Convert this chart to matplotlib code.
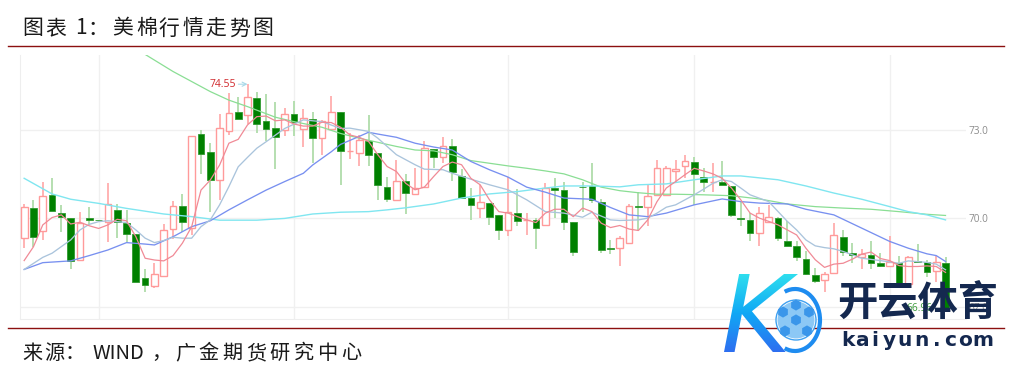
import numpy as np
import matplotlib
matplotlib.use('Agg')
import matplotlib.pyplot as plt
from matplotlib.patches import Circle, PathPatch, RegularPolygon, Arc
from matplotlib.textpath import TextPath
from matplotlib.font_manager import FontProperties
from matplotlib.transforms import Affine2D

opens = [69.33, 70.34, 69.57, 70.79, 70.20, 70.03, 68.59, 70.00, 69.95, 69.89,
         70.29, 69.83, 69.47, 67.97, 67.71, 68.06, 69.64, 70.43, 69.66, 72.85,
         72.25, 71.29, 72.96, 73.60, 73.50, 74.08, 73.29, 73.07, 73.00, 73.54,
         73.02, 73.37, 72.73, 73.02, 73.60, 72.27, 72.21, 72.63, 72.21, 71.06,
         70.63, 71.27, 70.82, 71.06, 72.35, 72.08, 72.46, 71.45, 70.70, 70.35,
         70.52, 70.11, 69.61, 70.19, 69.93, 69.95, 69.76, 71.03, 70.97, 69.87,
         71.08, 71.10, 70.56, 68.99, 68.99, 69.15, 70.42, 70.40, 70.80, 70.80,
         71.62, 71.77, 71.91, 71.40, 71.22, 71.24, 71.10, 70.00, 69.95, 69.49,
         69.87, 70.01, 69.25, 69.05, 68.63, 68.09, 67.91, 68.14, 69.36, 68.82,
         68.69, 68.77, 68.49, 68.40, 68.48, 67.76, 68.57, 68.51, 68.22, 68.48]
highs = [70.49, 70.63, 71.25, 71.36, 70.46, 70.03, 70.23, 70.38, 69.96, 71.19,
         70.49, 70.29, 69.47, 68.29, 68.48, 69.81, 70.59, 70.83, 72.81, 73.00,
         72.55, 73.53, 74.24, 74.11, 74.55, 74.30, 74.21, 73.96, 73.73, 73.99,
         73.70, 73.60, 73.34, 74.15, 73.60, 72.89, 72.83, 73.51, 72.21, 71.39,
         71.99, 71.49, 71.70, 72.61, 72.37, 72.75, 72.70, 71.67, 71.03, 71.14,
         70.52, 70.11, 71.40, 70.99, 70.20, 70.01, 71.19, 71.36, 71.25, 69.87,
         71.22, 71.87, 70.65, 69.27, 69.41, 70.49, 70.88, 71.14, 71.99, 71.76,
         71.99, 72.16, 72.08, 71.70, 71.87, 71.93, 71.10, 70.57, 70.18, 70.38,
         70.46, 70.06, 69.92, 69.22, 68.88, 68.31, 68.20, 69.84, 69.61, 69.16,
         68.96, 69.22, 68.82, 69.42, 68.71, 68.73, 69.14, 68.60, 68.73, 68.69]
lows = [68.99, 69.04, 69.27, 70.26, 69.55, 68.27, 68.59, 69.78, 69.93, 69.19,
        69.35, 69.19, 67.83, 67.49, 67.63, 68.06, 69.30, 69.55, 69.44, 71.51,
        70.23, 70.63, 72.83, 73.36, 73.20, 72.88, 72.64, 71.69, 72.79, 72.79,
        72.43, 71.87, 72.15, 73.00, 71.13, 72.01, 71.76, 71.79, 70.61, 70.57,
        70.63, 70.16, 70.82, 71.03, 71.70, 71.87, 71.27, 70.69, 69.95, 70.01,
        69.78, 69.27, 69.41, 69.73, 69.44, 68.97, 69.76, 70.01, 69.61, 68.73,
        70.23, 70.52, 68.84, 68.80, 68.40, 69.15, 69.56, 69.73, 70.80, 70.80,
        71.19, 71.36, 70.46, 70.88, 70.91, 71.13, 70.06, 69.75, 69.25, 69.05,
        69.87, 69.22, 69.05, 68.57, 68.09, 67.80, 67.49, 68.14, 68.71, 68.48,
        68.29, 68.29, 68.34, 68.40, 67.76, 67.76, 68.48, 68.03, 67.86, 66.96]
closes = [70.40, 69.36, 70.77, 70.26, 70.04, 68.56, 69.86, 69.95, 69.94, 70.49,
          69.87, 69.47, 67.83, 67.74, 68.11, 69.61, 70.43, 69.87, 72.81, 72.18,
          71.29, 73.08, 73.56, 73.36, 74.11, 73.20, 73.04, 72.77, 73.54, 73.27,
          73.42, 72.73, 73.30, 73.60, 72.29, 72.29, 72.66, 72.14, 71.14, 70.65,
          71.26, 70.87, 71.04, 72.40, 72.09, 72.44, 71.59, 70.69, 70.44, 70.55,
          70.06, 69.61, 70.22, 69.92, 69.95, 69.68, 71.03, 70.98, 69.87, 68.86,
          71.06, 70.63, 68.93, 68.97, 69.33, 70.42, 70.39, 70.77, 71.70, 71.70,
          71.66, 71.94, 71.51, 71.22, 71.24, 71.13, 70.11, 69.97, 69.49, 70.18,
          70.04, 69.32, 69.05, 68.68, 68.11, 67.87, 68.11, 69.43, 68.86, 68.75,
          68.79, 68.49, 68.39, 68.52, 67.76, 68.70, 68.53, 68.19, 68.53, 66.96]

ma_red = [68.57, 69.04, 69.78, 70.03, 70.12, 69.81, 69.87, 69.75, 69.66, 69.78,
          69.97, 69.92, 69.38, 68.65, 68.59, 68.56, 68.74, 69.16, 69.72, 70.96,
          71.30, 71.81, 72.55, 72.68, 73.17, 73.45, 73.47, 73.31, 73.34, 73.20,
          73.13, 73.13, 73.26, 73.25, 73.09, 72.83, 72.75, 72.61, 72.16, 71.76,
          71.59, 71.19, 70.97, 71.06, 71.42, 71.76, 71.91, 71.82, 71.36, 71.14,
          70.63, 70.23, 70.18, 70.06, 69.95, 69.86, 70.18, 70.31, 70.31, 70.06,
          70.35, 70.23, 69.84, 69.69, 69.76, 69.64, 69.59, 69.95, 70.57, 71.03,
          71.25, 71.48, 71.70, 71.61, 71.51, 71.36, 71.03, 70.63, 70.18, 70.01,
          69.90, 69.78, 69.61, 69.44, 68.99, 68.60, 68.34, 68.45, 68.48, 68.62,
          68.79, 68.86, 68.64, 68.57, 68.40, 68.37, 68.37, 68.39, 68.37, 68.17]

ma_grey_x = [0, 2, 3, 5, 6, 7, 8, 9, 11, 12, 13, 14, 15, 16, 17, 18, 19, 20, 21, 22, 23,
             24, 25, 26, 28, 30, 32, 34, 35, 37, 38, 40, 42, 43, 45, 46, 48, 50, 52, 54,
             56, 58, 60, 61, 63, 64, 66, 67, 68, 69, 70, 72, 73, 74, 75, 76, 77, 78, 80,
             82, 83, 84, 85, 86, 87, 88, 90, 92, 94, 95, 97, 98, 99]
ma_grey = [68.27, 68.68, 68.82, 69.27, 69.61, 69.80, 69.89, 69.92, 69.86, 69.61, 69.33,
           69.18, 69.25, 69.36, 69.33, 69.33, 69.72, 69.95, 70.46, 71.08, 71.75, 72.07,
           72.38, 72.60, 73.05, 73.34, 73.28, 73.05, 73.06, 72.95, 72.72, 72.16, 71.82,
           71.67, 71.65, 71.53, 71.33, 71.14, 70.97, 70.63, 70.23, 70.18, 70.04, 70.21,
           69.95, 69.93, 69.95, 70.01, 70.18, 70.38, 70.46, 70.80, 70.99, 71.19, 71.31,
           71.25, 71.03, 70.80, 70.57, 69.90, 69.61, 69.27, 69.07, 69.01, 68.97, 68.88,
           68.65, 68.57, 68.48, 68.56, 68.51, 68.45, 68.26]

ma_blue_x = [0, 2, 5, 7, 9, 11, 13, 14, 16, 18, 20, 22, 24, 26, 28, 30, 31, 33, 34, 36,
             37, 38, 40, 42, 44, 46, 48, 50, 52, 54, 56, 58, 61, 63, 65, 67, 69, 72, 75,
             77, 79, 82, 84, 87, 90, 93, 95, 97, 98, 99]
ma_blue = [68.27, 68.50, 68.56, 68.74, 68.93, 69.18, 69.13, 69.10, 69.38, 69.72, 69.92,
           70.29, 70.63, 70.96, 71.25, 71.53, 71.81, 72.26, 72.51, 72.78, 72.92, 72.86,
           72.75, 72.55, 72.42, 72.32, 71.93, 71.65, 71.40, 71.06, 70.89, 70.69, 70.65,
           70.37, 70.12, 70.06, 70.18, 70.46, 70.66, 70.57, 70.52, 70.49, 70.31, 70.12,
           69.67, 69.22, 68.99, 68.80, 68.74, 68.54]

ma_cyan_x = [0, 3, 5, 8, 11, 15, 18, 21, 25, 28, 31, 34, 37, 39, 41, 44, 47, 50, 53, 56,
             58, 61, 64, 66, 69, 72, 75, 77, 81, 84, 87, 90, 93, 95, 97, 99]
ma_cyan = [71.36, 70.83, 70.65, 70.51, 70.34, 70.15, 70.06, 69.94, 69.94, 70.00, 70.15,
           70.21, 70.23, 70.29, 70.36, 70.49, 70.69, 70.83, 70.91, 71.03, 71.10, 71.10,
           71.07, 71.14, 71.17, 71.31, 71.44, 71.44, 71.31, 71.10, 70.86, 70.65, 70.40,
           70.23, 70.12, 69.95]

ma_green_x = [13, 16, 20, 22, 24, 27, 29, 32, 34, 36, 38, 40, 42, 44, 46, 48, 50, 52, 54,
              56, 58, 60, 62, 64, 66, 68, 70, 73, 76, 79, 82, 85, 88, 91, 94, 97, 99]
ma_green = [75.56, 74.98, 74.30, 74.01, 73.79, 73.43, 73.28, 73.09, 72.88, 72.72, 72.58,
            72.44, 72.32, 72.29, 72.16, 71.96, 71.87, 71.78, 71.70, 71.61, 71.51, 71.31,
            71.06, 70.94, 70.87, 70.82, 70.82, 70.80, 70.77, 70.66, 70.49, 70.40, 70.35,
            70.31, 70.23, 70.14, 70.10]

y_ticks = [67.0, 70.0, 73.0]
x_grid = [8, 29, 52, 72, 93]

W, H = 1009, 373
plt.rcParams['font.family'] = ['Noto Sans CJK SC', 'DejaVu Sans']
fig = plt.figure(figsize=(W / 100, H / 100), dpi=100)

# chart area, in pixels of the reference
left, right, top, bottom = 19.5, 966, 55, 319
ax = fig.add_axes([left / W, 1 - bottom / H, (right - left) / W, (bottom - top) / H])
ax.set_xlim(-0.5, 101.2)
ax.set_ylim(66.59, 75.54)
for s in ['top', 'right']:
    ax.spines[s].set_visible(False)
for s in ['left', 'bottom']:
    ax.spines[s].set_color('#eeeeee')
ax.set_xticks(x_grid)
ax.set_xticklabels([])
ax.tick_params(axis='x', length=0)
ax.set_yticks(y_ticks)
ax.set_yticklabels(['%.1f' % v for v in y_ticks], family='Open Sans', fontsize=7.2, color='#8c8c8c')
ax.yaxis.tick_right()
ax.tick_params(axis='y', length=0, pad=2)
ax.grid(True, color='#f0f0f0', lw=1)
ax.set_axisbelow(True)

o = np.array(opens)
h = np.array(highs)
l = np.array(lows)
c = np.array(closes)
x = np.arange(len(o))
up = c >= o

ax.vlines(x[up], l[up], h[up], color='#ffb3b3', lw=1.4, zorder=2)
ax.vlines(x[~up], l[~up], h[~up], color='#b5dfb0', lw=1.4, zorder=2)
ax.bar(x[up], (c - o)[up], bottom=o[up], width=0.72, facecolor='white', edgecolor='#ff9a9a', lw=1, zorder=3)
ax.bar(x[~up], (c - o)[~up], bottom=o[~up], width=0.72, facecolor='#008000', edgecolor='#2f9a2f', lw=0.6, zorder=3)

ax.plot(ma_green_x, ma_green, color='#8ade94', lw=0.9, zorder=4)
ax.plot(ma_cyan_x, ma_cyan, color='#80e6f0', lw=1, zorder=4)
ax.plot(ma_blue_x, ma_blue, color='#7890f0', lw=0.95, zorder=4)
ax.plot(ma_grey_x, ma_grey, color='#aac4dc', lw=0.95, zorder=4)
ax.plot(range(len(ma_red)), ma_red, color='#f08a96', lw=0.9, zorder=5)

ax.annotate('74.55', xy=(24, 74.55), xytext=(21.3, 74.55), family='Open Sans', fontsize=7.5,
            color='#d0282c', ha='center', va='center', zorder=6,
            arrowprops=dict(arrowstyle='->', color='#a8d8e8', lw=0.8, shrinkA=0, shrinkB=0))
ax.text(96.2, 66.96, '66.96', family='Open Sans', fontsize=7.2, color='#3a9a3a',
        ha='center', va='center', zorder=6)

# page overlay: rules, captions, watermark (y counted from the bottom)
page = fig.add_axes([0, 0, 1, 1], zorder=10)
page.set_xlim(0, W)
page.set_ylim(0, H)
page.axis('off')
page.patch.set_alpha(0)


def spaced(text, x0, pitch, y, size):
    # the captions have wide letter spacing, so each sign is placed on its own
    for i, ch in enumerate(text):
        page.text(x0 + i * pitch, H - y, ch, fontsize=size, color='#1a1a1a', ha='center', va='center')


page.plot([8, 1004], [H - 45.5, H - 45.5], color='#8c1010', lw=1)
page.plot([8, 1004], [H - 327.5, H - 327.5], color='#8c1010', lw=1)

spaced('图表', 33, 22.5, 28.5, 15)
spaced('1', 81, 0, 28.5, 15)
spaced('：', 98, 0, 28.5, 15)
spaced('美棉行情走势图', 123, 23.2, 28.5, 15)

spaced('来源', 32, 22.5, 353.5, 14.5)
spaced('：', 75, 0, 353.5, 14.5)
page.text(92, H - 353.5, 'WIND', fontsize=14.5, color='#1a1a1a', ha='left', va='center')
spaced('，', 161, 0, 353.5, 14.5)
spaced('广金期货研究中心', 185, 23.7, 353.5, 14.5)

# logo letter with a vertical colour fade
k_path = TextPath((0, 0), 'K', size=100, prop=FontProperties(family='DejaVu Sans', style='oblique'))
bb = k_path.get_extents()
k_tr = (Affine2D().translate(-bb.x0, -bb.y0).scale(74 / bb.width, 78 / bb.height)
        .translate(724, H - 352) + page.transData)
k_patch = PathPatch(k_path, transform=k_tr, facecolor='none', edgecolor='none')
page.add_patch(k_patch)
fade = np.linspace(0, 1, 64).reshape(-1, 1)
cmap = matplotlib.colors.LinearSegmentedColormap.from_list('k', ['#2f6cf0', '#10a8f5', '#30e0ee'])
im = page.imshow(fade, extent=[720, 806, H - 354, H - 272], origin='lower', cmap=cmap, aspect='auto', zorder=11)
im.set_clip_path(k_patch)
page.set_xlim(0, W)
page.set_ylim(0, H)

page.add_patch(Arc((795, H - 320), 50, 62, theta1=-110, theta2=110, color='#1e8cf0', lw=3, zorder=12))
page.add_patch(Circle((796, H - 320), 20, facecolor='#ffffff', edgecolor='#3ea0f0', lw=1, zorder=13))
page.add_patch(Circle((796, H - 320), 18.5, facecolor='#8cc8f5', edgecolor='none', zorder=13))
for bx, by in [(796, 320), (783, 312), (809, 312), (785, 331), (807, 331), (796, 305)]:
    page.add_patch(RegularPolygon((bx, H - by), 6, radius=5.6, facecolor='#3a96ea', edgecolor='none', zorder=14))

page.text(917.5, H - 304, '开云体育', fontsize=29, fontweight='bold', color='#14284f',
          ha='center', va='center', zorder=12)
kaiyun_x = [848, 862, 875, 889, 905, 921, 937, 950, 965, 983]
for px, ch in zip(kaiyun_x, 'kaiyun.com'):
    page.text(px, H - 340, ch, family='DejaVu Sans', fontsize=14.5, fontweight='bold',
              color='#14284f', ha='center', va='center', zorder=12)

fig.savefig('out.png', dpi=100)
